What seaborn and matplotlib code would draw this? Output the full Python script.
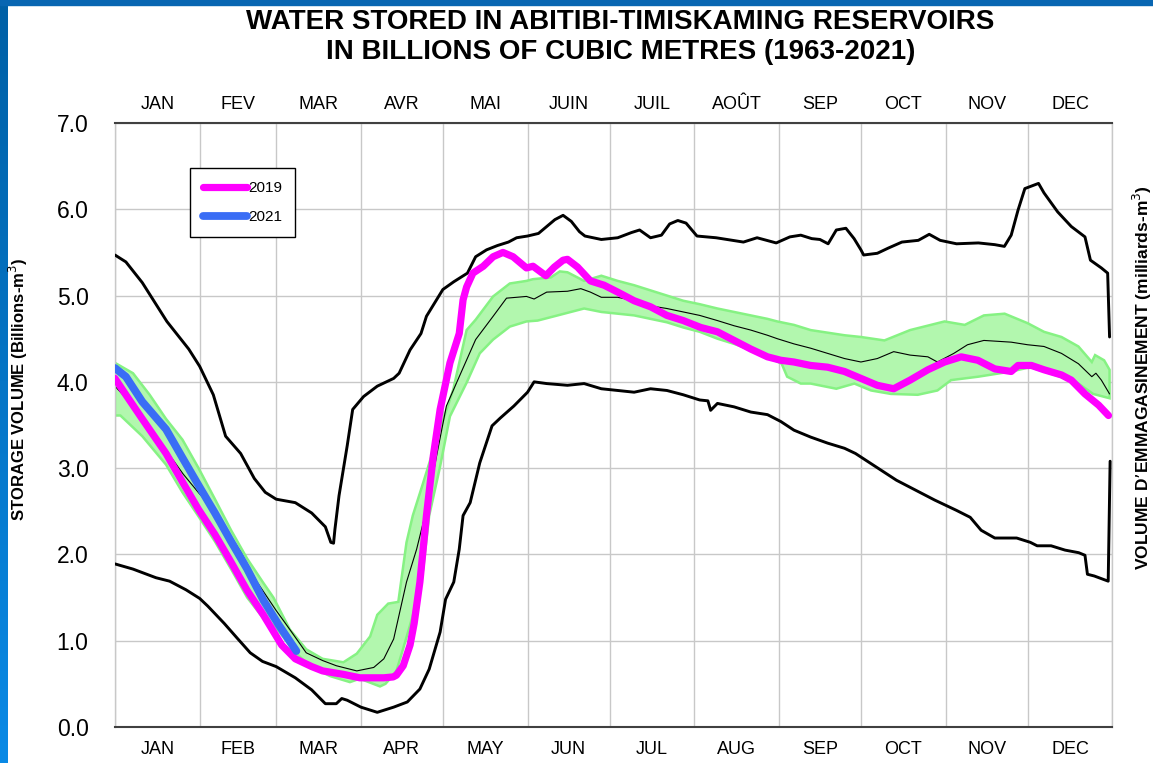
import matplotlib
matplotlib.use('Agg')
import matplotlib.pyplot as plt
from matplotlib.patches import Rectangle
import seaborn as sns
import numpy as np


# month layout (day of year)
month_starts = [0, 31, 59, 90, 120, 151, 181, 212, 243, 273, 304, 334, 365]
months_en = ['JAN', 'FEB', 'MAR', 'APR', 'MAY', 'JUN', 'JUL', 'AUG', 'SEP', 'OCT', 'NOV', 'DEC']
months_fr = ['JAN', 'FEV', 'MAR', 'AVR', 'MAI', 'JUIN', 'JUIL', 'AOÛT', 'SEP', 'OCT', 'NOV', 'DEC']

# maximum (1963-2021)
max_days = [0, 4, 10, 14, 19, 22, 27, 31, 36, 40.5, 46, 51, 55, 59, 66, 72, 77, 79, 80, 80.5, 82,
            85, 87, 91, 96, 102, 104, 108, 112, 114, 120, 124, 129, 132, 136, 140, 144, 147, 151,
            155, 158, 161, 164, 167, 170, 172, 178, 184, 189, 192, 196, 200, 203, 206, 209, 213,
            220, 230, 235, 242, 247, 251, 255, 258, 261, 264, 267.5, 270.5, 273, 274, 279, 283,
            288, 294, 298, 302, 308, 316, 322, 325.5, 328, 330.5, 333, 338, 340, 345, 350, 355,
            357, 361, 363.3, 364]
max_vals = [5.47, 5.39, 5.15, 4.95, 4.70, 4.58, 4.38, 4.18, 3.85, 3.37, 3.17, 2.88, 2.72, 2.64,
            2.60, 2.48, 2.32, 2.14, 2.13, 2.29, 2.68, 3.26, 3.68, 3.83, 3.95, 4.04, 4.10, 4.37,
            4.56, 4.76, 5.07, 5.16, 5.26, 5.45, 5.53, 5.58, 5.62, 5.67, 5.69, 5.72, 5.80, 5.88,
            5.93, 5.86, 5.74, 5.69, 5.65, 5.67, 5.73, 5.76, 5.67, 5.70, 5.83, 5.87, 5.84, 5.69,
            5.67, 5.62, 5.67, 5.61, 5.68, 5.70, 5.66, 5.65, 5.60, 5.76, 5.78, 5.66, 5.53, 5.47,
            5.49, 5.55, 5.62, 5.64, 5.71, 5.64, 5.60, 5.61, 5.59, 5.57, 5.70, 5.99, 6.24, 6.30,
            6.19, 5.97, 5.80, 5.68, 5.41, 5.32, 5.26, 4.52]

# minimum (1963-2021)
min_days = [0, 6.6, 15, 20, 26, 31, 34, 40, 45, 49.5, 54, 59, 66, 72, 77, 81, 83, 85, 90, 96,
            102, 107, 111.6, 115, 119, 121, 124, 126, 127.4, 130, 133.5, 138, 141, 146, 151,
            153.4, 158, 165.6, 171.7, 178, 184, 190, 196, 202, 208, 214, 217, 218, 220.5, 226.6,
            232.7, 238.8, 243.7, 248.5, 254.6, 260.8, 267, 271, 286, 300, 308, 313, 317, 322,
            330, 335, 337.5, 342.6, 347.7, 352.7, 355, 355.9, 358.4, 363.5, 364.2]
min_vals = [1.89, 1.83, 1.73, 1.69, 1.59, 1.49, 1.40, 1.20, 1.02, 0.86, 0.76, 0.70, 0.57, 0.43,
            0.27, 0.27, 0.33, 0.31, 0.23, 0.17, 0.23, 0.29, 0.44, 0.67, 1.10, 1.48, 1.68, 2.06,
            2.45, 2.60, 3.06, 3.49, 3.58, 3.72, 3.88, 4.00, 3.98, 3.96, 3.98, 3.92, 3.90, 3.88,
            3.92, 3.90, 3.85, 3.79, 3.78, 3.67, 3.75, 3.71, 3.65, 3.62, 3.54, 3.44, 3.36, 3.29,
            3.23, 3.17, 2.86, 2.63, 2.51, 2.43, 2.28, 2.19, 2.19, 2.14, 2.10, 2.10, 2.05, 2.02,
            1.99, 1.77, 1.75, 1.69, 3.08]

# median
med_days = [0, 5, 10, 15, 20, 25, 31, 36.6, 41, 46, 52, 59, 64, 70, 76, 81, 88.5, 94.7, 98.4,
            102, 106.7, 110.4, 114, 117.7, 121.3, 126, 132, 138.4, 143.3, 147, 150.6, 153.4, 158,
            165.6, 170.5, 174, 178, 184, 190, 196, 202, 208, 214, 220.5, 226.6, 232.7, 238.8,
            242.4, 248.5, 254.6, 260.8, 267, 273, 279, 285, 291, 297.5, 301, 307, 312, 318, 328,
            334, 340, 346.4, 352.6, 357.5, 359, 361, 364]
med_vals = [3.95, 3.78, 3.58, 3.38, 3.15, 2.93, 2.70, 2.52, 2.28, 2.03, 1.68, 1.35, 1.13, 0.86,
            0.77, 0.71, 0.65, 0.69, 0.79, 1.02, 1.68, 2.06, 2.52, 3.14, 3.72, 4.06, 4.49, 4.76,
            4.97, 4.98, 4.99, 4.96, 5.04, 5.05, 5.08, 5.04, 4.98, 4.98, 4.94, 4.88, 4.85, 4.81,
            4.77, 4.71, 4.65, 4.60, 4.54, 4.50, 4.44, 4.39, 4.33, 4.27, 4.23, 4.27, 4.35, 4.31,
            4.29, 4.23, 4.33, 4.43, 4.48, 4.46, 4.43, 4.41, 4.33, 4.21, 4.06, 4.10, 4.02, 3.86]

# normal range (green band)
band_hi_days = [0, 6.6, 12.7, 18.7, 24.7, 30.6, 36.6, 42.5, 48.4, 54.3, 58, 64, 70, 76, 83.6,
                88.5, 93.4, 96, 100, 103.7, 106.7, 109, 112.8, 117.7, 123.8, 128.7, 132, 138.4,
                144.5, 150.6, 153, 159.5, 162.8, 165.6, 171.7, 178, 184, 190, 196, 202, 208, 214,
                220.5, 226.6, 232.7, 238.8, 242.4, 248.5, 254.6, 267, 273, 281.6, 291, 303.6, 311,
                318, 325.6, 334, 340, 346.4, 352.6, 357.5, 358.7, 362, 364]
band_hi_vals = [4.22, 4.10, 3.85, 3.57, 3.33, 3.00, 2.64, 2.28, 1.95, 1.67, 1.50, 1.13, 0.90,
                0.79, 0.75, 0.85, 1.05, 1.30, 1.43, 1.45, 2.14, 2.45, 2.83, 3.33, 3.91, 4.60,
                4.72, 4.99, 5.14, 5.17, 5.19, 5.21, 5.28, 5.27, 5.17, 5.23, 5.17, 5.12, 5.06,
                5.00, 4.94, 4.90, 4.85, 4.81, 4.77, 4.73, 4.70, 4.66, 4.60, 4.54, 4.52, 4.48,
                4.60, 4.70, 4.66, 4.77, 4.79, 4.68, 4.58, 4.52, 4.41, 4.23, 4.31, 4.25, 4.14]
band_lo_days = [0, 2, 10, 18.7, 24.7, 30.6, 36.6, 42.5, 48.4, 54.3, 59, 65, 71, 78.7, 86, 89.6,
                97, 99, 101.8, 103, 105.5, 109, 112.8, 115, 119, 122.6, 128.7, 133.5, 138.4,
                144.5, 150.6, 154.7, 162, 171.7, 178, 184, 190, 196, 202, 208, 214, 220.5, 226.6,
                232.7, 238.8, 244, 246, 251, 254.6, 264, 270.6, 276.7, 284, 293.8, 301, 306, 316,
                328, 335, 346, 352.6, 358, 364]
band_lo_vals = [3.61, 3.61, 3.37, 3.04, 2.72, 2.44, 2.15, 1.83, 1.50, 1.26, 1.15, 0.90, 0.71,
                0.59, 0.52, 0.56, 0.47, 0.50, 0.60, 0.65, 0.91, 1.29, 1.83, 2.45, 3.02, 3.60,
                3.99, 4.33, 4.49, 4.64, 4.70, 4.71, 4.77, 4.85, 4.81, 4.79, 4.77, 4.73, 4.69,
                4.63, 4.58, 4.50, 4.44, 4.37, 4.29, 4.21, 4.06, 3.98, 3.98, 3.92, 3.98, 3.90,
                3.86, 3.85, 3.90, 4.02, 4.06, 4.12, 4.17, 4.06, 3.98, 3.86, 3.81]

# 2019
y2019_days = [0, 4, 10, 18.7, 24.7, 30.6, 36.6, 42.5, 48.4, 54.3, 61, 66, 72, 76, 83.6, 89.6,
              92, 98.4, 101.8, 103, 105.5, 108, 109.5, 111.6, 114, 116.5, 119, 122.6, 126,
              127.4, 128.7, 131, 134.8, 138.4, 142, 145.7, 150.6, 153, 157.7, 160.8, 164, 165.6,
              169.3, 174, 179, 184, 190, 196, 202, 208, 214.4, 220.5, 226.6, 232.7, 238.8,
              243.7, 248.5, 254.6, 260.8, 267, 273, 279, 285, 291, 297.5, 303.6, 309.7, 315.8,
              322, 328, 330.5, 335.4, 340, 346.4, 350, 355, 360, 363.6]
y2019_vals = [4.04, 3.85, 3.57, 3.17, 2.84, 2.52, 2.23, 1.91, 1.58, 1.30, 0.95, 0.79, 0.70,
              0.65, 0.61, 0.57, 0.57, 0.57, 0.58, 0.60, 0.71, 0.95, 1.20, 1.68, 2.45, 3.14,
              3.68, 4.22, 4.56, 4.95, 5.10, 5.26, 5.34, 5.45, 5.50, 5.45, 5.32, 5.34, 5.23,
              5.33, 5.41, 5.42, 5.33, 5.17, 5.12, 5.04, 4.94, 4.87, 4.77, 4.71, 4.63, 4.58,
              4.48, 4.38, 4.29, 4.25, 4.23, 4.19, 4.17, 4.12, 4.04, 3.96, 3.92, 4.02, 4.14,
              4.23, 4.29, 4.25, 4.15, 4.12, 4.19, 4.19, 4.14, 4.08, 4.02, 3.86, 3.73, 3.61]

# 2021
y2021_days = [0, 4, 10, 18.7, 24.7, 30.6, 36.6, 42.5, 48.4, 54.3, 60, 66.4]
y2021_vals = [4.16, 4.06, 3.77, 3.45, 3.12, 2.80, 2.48, 2.15, 1.83, 1.47, 1.18, 0.88]

yticks = [0, 1, 2, 3, 4, 5, 6, 7]


def main():
    sns.set_style('white')
    plt.rcParams['font.family'] = ['Liberation Sans', 'DejaVu Sans']
    plt.rcParams['text.color'] = 'black'
    plt.rcParams['xtick.color'] = 'black'
    plt.rcParams['ytick.color'] = 'black'

    fig = plt.figure(figsize=(11.53, 7.63), dpi=100)
    ax = fig.add_axes([0.0997, 0.0472, 0.8650, 0.7916])

    # green normal band
    poly_x = band_hi_days + band_lo_days[::-1]
    poly_y = band_hi_vals + band_lo_vals[::-1]
    ax.fill(poly_x, poly_y, facecolor='#b2f7ae', edgecolor='#86f283', linewidth=1.8, zorder=1)

    sns.lineplot(x=med_days, y=med_vals, ax=ax, color='black', linewidth=0.8, sort=False,
                 zorder=2)
    sns.lineplot(x=max_days, y=max_vals, ax=ax, color='black', linewidth=2.1, sort=False,
                 zorder=3)
    sns.lineplot(x=min_days, y=min_vals, ax=ax, color='black', linewidth=2.1, sort=False,
                 zorder=3)
    sns.lineplot(x=y2019_days, y=y2019_vals, ax=ax, color='#ff00ff', linewidth=5.2,
                 sort=False, zorder=4, label='2019', solid_capstyle='round')
    sns.lineplot(x=y2021_days, y=y2021_vals, ax=ax, color='#3a6df5', linewidth=5.6,
                 sort=False, zorder=5, label='2021', solid_capstyle='round')

    ax.set_xlim(0, 365)
    ax.set_ylim(0, 7)

    # month gridlines + labels
    mids = [(a + b) / 2 for a, b in zip(month_starts[:-1], month_starts[1:])]
    ax.set_xticks(month_starts, minor=True)
    ax.set_xticks(mids)
    ax.set_xticklabels(months_en, fontsize=13)
    ax.tick_params(axis='x', which='both', length=0, pad=10)
    ax.grid(which='minor', axis='x', color='#c8c8c8', linewidth=1)
    ax.grid(which='major', axis='y', color='#c8c8c8', linewidth=1)
    ax.grid(which='major', axis='x', visible=False)

    top = ax.secondary_xaxis('top')
    top.set_xticks(mids)
    top.set_xticklabels(months_fr, fontsize=13)
    top.tick_params(length=0, pad=7)
    top.spines['top'].set_visible(False)

    ax.set_yticks(yticks)
    ax.set_yticklabels([f'{v:.1f}' for v in yticks], fontsize=16.5)
    ax.tick_params(axis='y', length=11, width=1, color='#404040', pad=8, direction='out')

    for side in ['left', 'right']:
        ax.spines[side].set_color('#c8c8c8')
        ax.spines[side].set_linewidth(1)
    for side in ['top', 'bottom']:
        ax.spines[side].set_color('#404040')
        ax.spines[side].set_linewidth(1.5)
        ax.spines[side].set_visible(True)
    ax.set_xlabel('')
    ax.set_ylabel('')

    leg = ax.legend(loc='upper left', bbox_to_anchor=(0.0752, 0.9255), borderaxespad=0,
                    fontsize=11, frameon=True, fancybox=False, edgecolor='black',
                    framealpha=1, handlelength=2.9, handletextpad=0.05, labelspacing=1.0,
                    borderpad=0.85)
    leg.get_frame().set_linewidth(1)

    ax_center = 0.0997 + 0.8650 / 2
    fig.text(ax_center + 0.006, 0.951,
             'WATER STORED IN ABITIBI-TIMISKAMING RESERVOIRS\nIN BILLIONS OF CUBIC METRES (1963-2021)',
             ha='center', va='center', fontsize=20, fontweight='bold', linespacing=1.2)
    fig.text(0.016, 0.49, 'STORAGE VOLUME (Billions-m$^3$)', rotation=90, ha='center',
             va='center', fontsize=12, fontweight='bold')
    fig.text(0.991, 0.505, 'VOLUME D\u2019EMMAGASINEMENT (milliards-m$^3$)', rotation=90,
             ha='center', va='center', fontsize=12.5, fontweight='bold')

    # blue frame on the top and left edges
    fig.add_artist(Rectangle((0, 1 - 5 / 763), 1, 5 / 763, transform=fig.transFigure,
                             color='#0866b2', zorder=10))
    edge = fig.add_axes([0, 0, 8 / 1153, 1])
    grad = np.linspace(0, 1, 256).reshape(-1, 1)
    edge.imshow(grad, aspect='auto', cmap=matplotlib.colors.LinearSegmentedColormap.from_list(
        'edge', ['#0060a6', '#0a8ae6']), origin='upper')
    edge.axis('off')

    plt.savefig('out.png', dpi=100)
    plt.close()


if __name__ == '__main__':
    main()
